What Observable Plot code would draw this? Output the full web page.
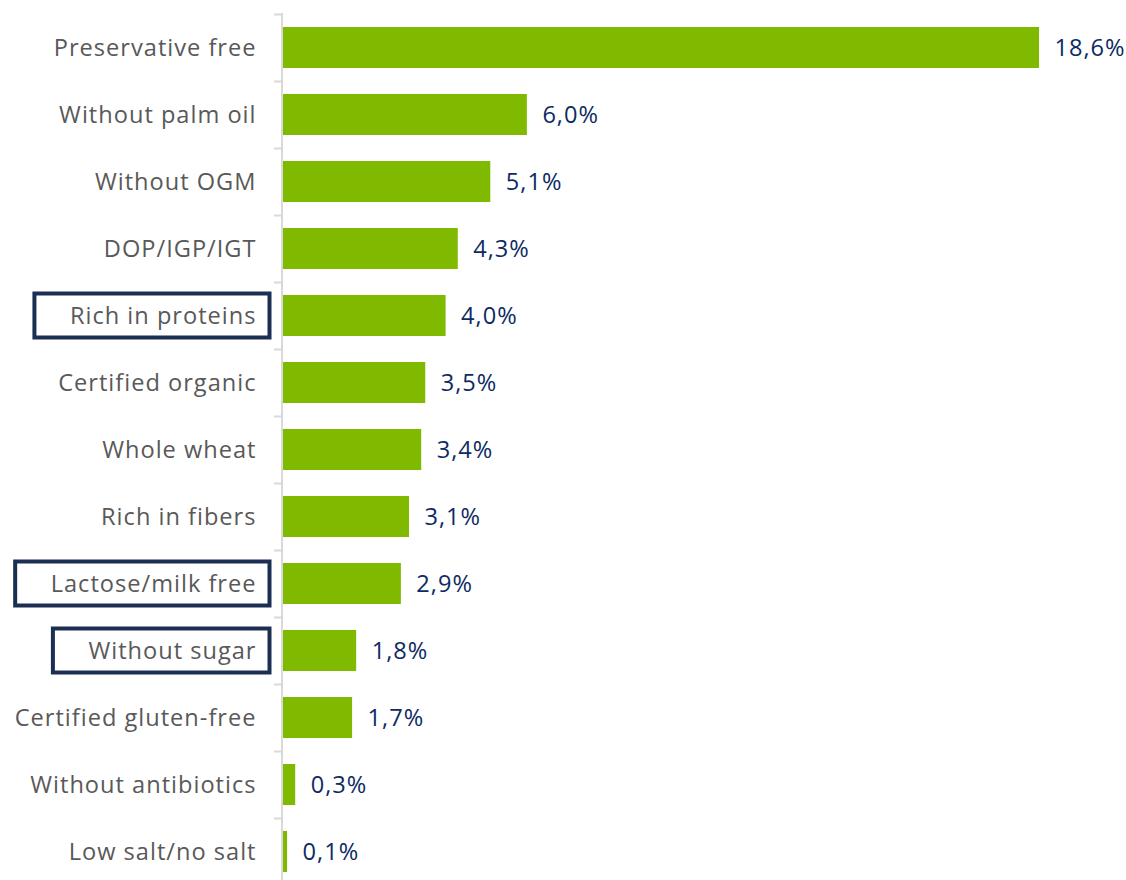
<!DOCTYPE html>
<html>
<head>
<meta charset="utf-8">
<script src="https://cdn.jsdelivr.net/npm/d3@7"></script>
<script src="https://cdn.jsdelivr.net/npm/@observablehq/plot@0.6"></script>
<style>
  html, body { margin: 0; padding: 0; background: #fff; overflow: hidden; }
  #chart svg { display: block; }
</style>
</head>
<body>
<div id="chart"></div>
<script>
const categories = [
  "Preservative free", "Without palm oil", "Without OGM", "DOP/IGP/IGT",
  "Rich in proteins", "Certified organic", "Whole wheat", "Rich in fibers",
  "Lactose/milk free", "Without sugar", "Certified gluten-free",
  "Without antibiotics", "Low salt/no salt"
];
const values = [18.6, 6.0, 5.1, 4.3, 4.0, 3.5, 3.4, 3.1, 2.9, 1.8, 1.7, 0.3, 0.1];
const boxed = ["Rich in proteins", "Lactose/milk free", "Without sugar"];

const data = categories.map((c, i) => ({category: c, value: values[i]}));
const fmt = v => v.toFixed(1).replace(".", ",") + "%";

const FONT = "Open Sans, Liberation Sans, sans-serif";
const FS = 23.6;
const LS = 1;
const width = 1126, height = 880;
const marginLeft = 283;
const xMax = 20.74;
const k = (width - marginLeft) / xMax; // px per unit

// measure label widths for the boxed labels
const ctx = document.createElement("canvas").getContext("2d");
ctx.font = `${FS}px ${FONT}`;
const tw = s => ctx.measureText(s).width + s.length * LS;
const tickPad = 27;

const chart = Plot.plot({
  width, height,
  marginLeft, marginRight: 0, marginTop: 13, marginBottom: 0,
  style: {fontFamily: FONT, color: "#595959", background: "#fff", letterSpacing: LS + "px"},
  x: {domain: [0, xMax], axis: null},
  y: {domain: categories, range: [13, 885.5], paddingInner: 0.385, paddingOuter: 0.1925, label: null},
  marks: [
    Plot.axisY({tickSize: 0, tickPadding: tickPad, fontSize: FS, fill: "#595959"}),
    Plot.barX(data, {y: "category", x: "value", fill: "#7FBA00"}),
    Plot.ruleX([0], {stroke: "#d9d9d9", strokeWidth: 2, dx: -1.5}),
    Plot.ruleY(categories, {y: d => d, x1: -9 / k, x2: -1 / k, dy: -33.5, stroke: "#d9d9d9", strokeWidth: 2}),
    Plot.rect(boxed, {
      y: d => d,
      x1: d => -(tickPad + tw(d) + 35) / k,
      x2: -13.5 / k,
      insetTop: -1.5, insetBottom: -1.5,
      fill: "none", stroke: "#1B2F52", strokeWidth: 4
    }),
    Plot.text(data, {
      y: "category", x: "value", text: d => fmt(d.value),
      dx: 15, textAnchor: "start", fontSize: FS, fill: "#0D2B63"
    })
  ]
});
document.getElementById("chart").append(chart);
</script>
</body>
</html>
